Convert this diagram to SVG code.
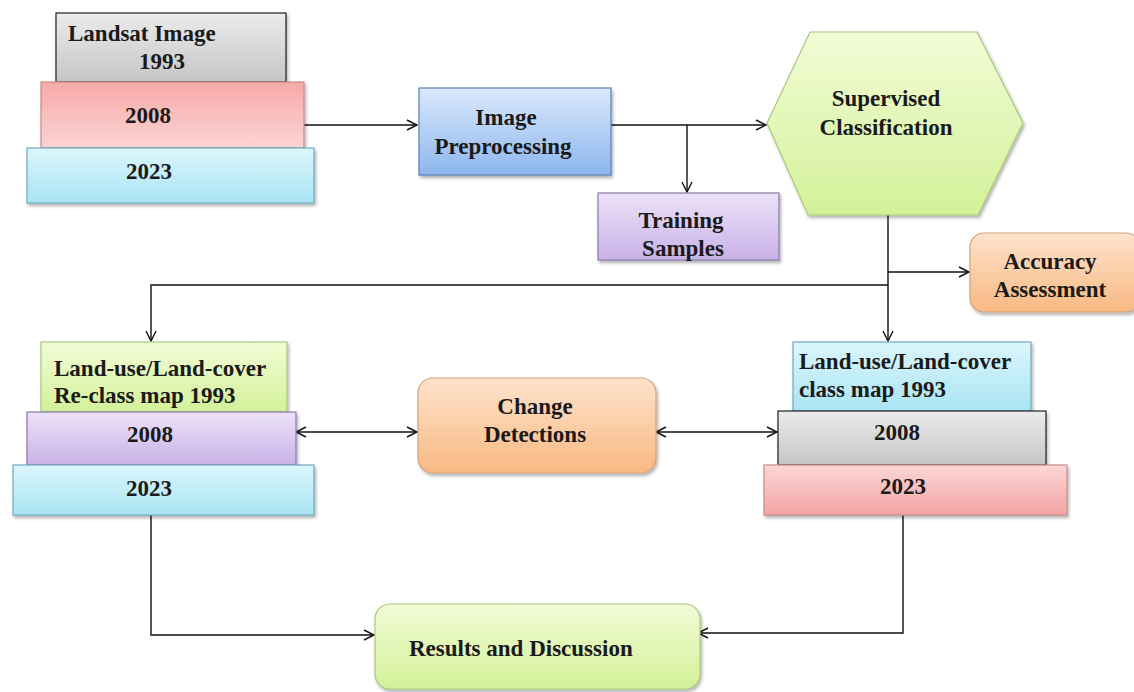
<svg xmlns="http://www.w3.org/2000/svg" width="1134" height="692" viewBox="0 0 1134 692">
<style>
text{font-family:"Liberation Serif","Times New Roman",serif;font-weight:bold;font-size:23px;fill:#1a1a1a}
.c{text-anchor:middle}
.ln{fill:none;stroke:#111;stroke-width:1.4}
</style>
<defs>
<filter id="sh" x="-10%" y="-10%" width="125%" height="130%"><feDropShadow dx="1.5" dy="2.5" stdDeviation="1.8" flood-color="#000" flood-opacity="0.3"/></filter>
<linearGradient id="gGray" x1="0" y1="0" x2="0" y2="1"><stop offset="0" stop-color="#ebebeb"/><stop offset="1" stop-color="#c6c6c6"/></linearGradient>
<linearGradient id="gPink" x1="0" y1="0" x2="0" y2="1"><stop offset="0" stop-color="#f6a9a9"/><stop offset="1" stop-color="#fcd3d3"/></linearGradient>
<linearGradient id="gPink2" x1="0" y1="0" x2="0" y2="1"><stop offset="0" stop-color="#fcd6d6"/><stop offset="1" stop-color="#f4a4a4"/></linearGradient>
<linearGradient id="gCyan" x1="0" y1="0" x2="0" y2="1"><stop offset="0" stop-color="#dcf6fc"/><stop offset="1" stop-color="#a9e4f3"/></linearGradient>
<linearGradient id="gBlue" x1="0" y1="0" x2="0" y2="1"><stop offset="0" stop-color="#dbe9fc"/><stop offset="1" stop-color="#8db6ee"/></linearGradient>
<linearGradient id="gLav" x1="0" y1="0" x2="0" y2="1"><stop offset="0" stop-color="#ece2f8"/><stop offset="1" stop-color="#c9b2e8"/></linearGradient>
<linearGradient id="gLime" x1="0" y1="0" x2="0" y2="1"><stop offset="0" stop-color="#f2fcd6"/><stop offset="1" stop-color="#d3f199"/></linearGradient>
<linearGradient id="gOrange" x1="0" y1="0" x2="0" y2="1"><stop offset="0" stop-color="#fee3cc"/><stop offset="1" stop-color="#f8b982"/></linearGradient>
<marker id="ah" viewBox="0 0 12 12" refX="11" refY="6" markerWidth="12" markerHeight="12" markerUnits="userSpaceOnUse" orient="auto-start-reverse"><path d="M1,1 L11,6 L1,11" fill="none" stroke="#111" stroke-width="1.4"/></marker>
</defs>

<g id="connectors">
<line class="ln" x1="304" y1="125" x2="417" y2="125" marker-end="url(#ah)"/>
<line class="ln" x1="611" y1="125" x2="766" y2="125" marker-end="url(#ah)"/>
<line class="ln" x1="687" y1="125" x2="687" y2="192" marker-end="url(#ah)"/>
<line class="ln" x1="888" y1="215" x2="888" y2="341" marker-end="url(#ah)"/>
<line class="ln" x1="888" y1="272" x2="969" y2="272" marker-end="url(#ah)"/>
<polyline class="ln" points="888,285 151,285 151,341" marker-end="url(#ah)"/>
<line class="ln" x1="296" y1="432" x2="417" y2="432" marker-start="url(#ah)" marker-end="url(#ah)"/>
<line class="ln" x1="656" y1="432" x2="777" y2="432" marker-start="url(#ah)" marker-end="url(#ah)"/>
<polyline class="ln" points="151,515 151,635 374,635" marker-end="url(#ah)"/>
<polyline class="ln" points="903,515 903,633 698,633" marker-end="url(#ah)"/>
</g>

<g id="landsat">
<rect x="56" y="13" width="230" height="69" fill="url(#gGray)" stroke="#222" stroke-width="1.2" filter="url(#sh)"/>
<rect x="41" y="82" width="263" height="66" fill="url(#gPink)" stroke="#c98a8a" stroke-width="1.2" filter="url(#sh)"/>
<rect x="27" y="148" width="287" height="55" fill="url(#gCyan)" stroke="#6fa9bd" stroke-width="1.2" filter="url(#sh)"/>
<text x="68" y="41">Landsat Image</text>
<text x="162" y="69" class="c">1993</text>
<text x="148" y="123" class="c">2008</text>
<text x="149" y="179" class="c">2023</text>
</g>

<g id="preprocessing">
<rect x="419" y="88" width="192" height="87" fill="url(#gBlue)" stroke="#5c7fb8" stroke-width="1.2" filter="url(#sh)"/>
<text x="506" y="125" class="c">Image</text>
<text x="503" y="154" class="c">Preprocessing</text>
</g>

<g id="training">
<rect x="598" y="193" width="181" height="67" fill="url(#gLav)" stroke="#8a78a8" stroke-width="1.2" filter="url(#sh)"/>
<text x="681" y="228" class="c">Training</text>
<text x="683" y="256" class="c">Samples</text>
</g>

<g id="classification">
<polygon points="767,123 810,32 977,32 1023,123 978,215 808,215" fill="url(#gLime)" stroke="#a9c77c" stroke-width="1.2" filter="url(#sh)"/>
<text x="886" y="106" class="c">Supervised</text>
<text x="886" y="135" class="c">Classification</text>
</g>

<g id="accuracy">
<rect x="970" y="233" width="170" height="79" rx="14" fill="url(#gOrange)" stroke="#d3a27a" stroke-width="1.2" filter="url(#sh)"/>
<text x="1050" y="269" class="c">Accuracy</text>
<text x="1050" y="297" class="c">Assessment</text>
</g>

<g id="reclass">
<rect x="41" y="342" width="246" height="70" fill="url(#gLime)" stroke="#a9c77c" stroke-width="1.2" filter="url(#sh)"/>
<rect x="27" y="412" width="269" height="53" fill="url(#gLav)" stroke="#8a78a8" stroke-width="1.2" filter="url(#sh)"/>
<rect x="13" y="465" width="301" height="50" fill="url(#gCyan)" stroke="#6fa9bd" stroke-width="1.2" filter="url(#sh)"/>
<text x="54" y="376">Land-use/Land-cover</text>
<text x="54" y="403">Re-class map 1993</text>
<text x="150" y="442" class="c">2008</text>
<text x="149" y="496" class="c">2023</text>
</g>

<g id="classmap">
<rect x="793" y="342" width="238" height="69" fill="url(#gCyan)" stroke="#6fa9bd" stroke-width="1.2" filter="url(#sh)"/>
<rect x="778" y="411" width="268" height="54" fill="url(#gGray)" stroke="#222" stroke-width="1.2" filter="url(#sh)"/>
<rect x="764" y="465" width="303" height="50" fill="url(#gPink2)" stroke="#c98a8a" stroke-width="1.2" filter="url(#sh)"/>
<text x="799" y="369">Land-use/Land-cover</text>
<text x="799" y="397">class map 1993</text>
<text x="897" y="440" class="c">2008</text>
<text x="903" y="494" class="c">2023</text>
</g>

<g id="change">
<rect x="418" y="378" width="238" height="95" rx="15" fill="url(#gOrange)" stroke="#d3a27a" stroke-width="1.2" filter="url(#sh)"/>
<text x="535" y="414" class="c">Change</text>
<text x="535" y="442" class="c">Detections</text>
</g>

<g id="results">
<rect x="375" y="604" width="325" height="85" rx="15" fill="url(#gLime)" stroke="#a9c77c" stroke-width="1.2" filter="url(#sh)"/>
<text x="409" y="656">Results and Discussion</text>
</g>
</svg>
